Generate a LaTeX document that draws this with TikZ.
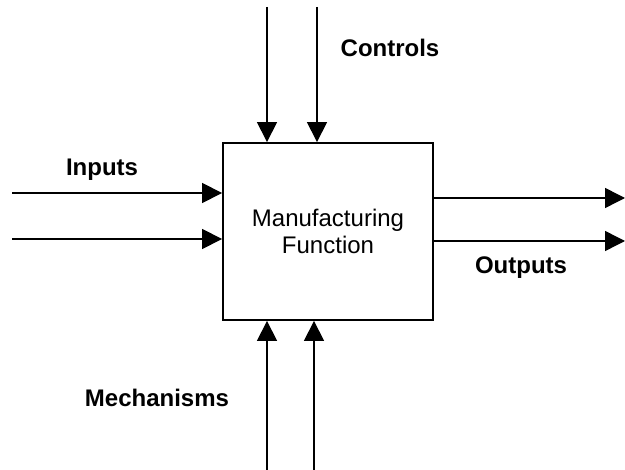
\documentclass[tikz,border=0pt]{standalone}
\usepackage{fontspec}
\setmainfont{Liberation Sans}
\usetikzlibrary{arrows.meta}
\begin{document}
\begin{tikzpicture}[x=0.75pt,y=-0.75pt,
  flow/.style={line width=1.1pt,-{Triangle[length=15pt,width=15pt]}},
  lbl/.style={font=\fontsize{18}{20.25}\selectfont\bfseries,inner sep=0pt},
  boxstyle/.style={draw,line width=1.4pt,minimum width=157.5pt,minimum height=132.75pt,
    align=center,font=\fontsize{18}{20.25}\selectfont,inner sep=0pt}]
\useasboundingbox[fill=white] (0,0) rectangle (625,470);
\node[boxstyle] (box) at (328,231.5) {Manufacturing\\Function};
% free ends
\coordinate (c1) at (267,7);
\coordinate (c2) at (317,7);
\coordinate (i1) at (12,193);
\coordinate (i2) at (12,239);
\coordinate (o1) at (625,198);
\coordinate (o2) at (625,241);
\coordinate (m1) at (267,470);
\coordinate (m2) at (314,470);
% controls
\draw[flow] (c1) -- (c1 |- box.north);
\draw[flow] (c2) -- (c2 |- box.north);
% inputs
\draw[flow] (i1) -- (i1 -| box.west);
\draw[flow] (i2) -- (i2 -| box.west);
% outputs
\draw[flow] (o1 -| box.east) -- (o1);
\draw[flow] (o2 -| box.east) -- (o2);
% mechanisms
\draw[flow] (m1) -- (m1 |- box.south);
\draw[flow] (m2) -- (m2 |- box.south);
% labels
\node[lbl] (lc) at (390,48) {Controls};
\node[lbl] (li) at (102,170) {Inputs};
\node[lbl] (lo) at (521,268) {Outputs};
\node[lbl] (lm) at (157,398) {Mechanisms};
\end{tikzpicture}
\end{document}
